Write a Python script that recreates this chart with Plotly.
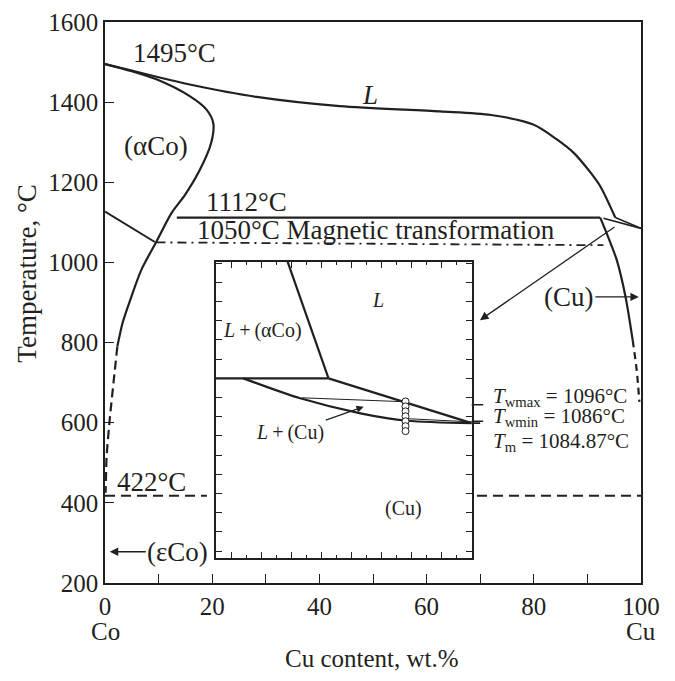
import plotly.graph_objects as go

INK = "#231f20"
FONT = "Liberation Serif"

# ---------------- main diagram (x: Cu wt.%, y: temperature °C) ----------------
liq_x = [0, 5, 10, 15.8, 28.3, 43.8, 62.5, 72, 79.9, 84.3, 87.4, 90.6, 92.4, 95.2]
liq_T = [1495, 1479, 1462, 1444, 1413, 1390, 1377, 1368, 1344, 1307, 1274, 1224, 1190, 1112]

aco_x = [0, 5, 9.6, 15.8, 18.9, 20.2, 19.8, 17.7, 15.0, 12.4, 9.6, 6.8, 4.7, 3.3, 2.3]
aco_T = [1495, 1477, 1457, 1415, 1382, 1348, 1298, 1231, 1170, 1123, 1052, 982, 906, 850, 790]
aco_dash_x = [2.3, 1.25, 0.93, 0.3, 0.15, 0.1]
aco_dash_T = [790, 657, 615, 515, 440, 425]

eps_x = [0, 9.3]
eps_T = [1127, 1051]

perit_x = [13.4, 92.4]
perit_T = [1112, 1112]

mag_x = [9.6, 93]
mag_T = [1050, 1043]

lens_up_x = [95.2, 100]
lens_up_T = [1112, 1085]
lens_lo_x = [93.0, 100]
lens_lo_T = [1110, 1085]

cu_x = [92.4, 94.3, 95.5, 97.1, 98.45]
cu_T = [1112, 1049, 1005, 915, 806]
cu_dash_x = [98.45, 99.2, 99.7]
cu_dash_T = [806, 731, 652]

eut_x = [0, 19.0, None, 69.4, 100]
eut_T = [418, 418, None, 418, 418]

x_ticks = [0, 10, 20, 30, 40, 50, 60, 70, 80, 90, 100]
x_ticktext = ["0", "", "20", "", "40", "", "60", "", "80", "", "100"]
y_ticks = [200, 400, 600, 800, 1000, 1200, 1400, 1600]

# ---------------- inset (enlarged Cu corner) ----------------
in_liq_aco_x = [93.88, 95.24]
in_liq_aco_T = [1182.7, 1112]
in_perit_x = [91.5, 95.24]
in_perit_T = [1112, 1112]
in_liq_cu_x = [95.24, 100]
in_liq_cu_T = [1112, 1084.87]
in_sol_cu_x = [92.41, 94.3, 96.3, 97.86, 100]
in_sol_cu_T = [1112, 1099.9, 1090.8, 1086.3, 1084.87]
tie1_x = [94.36, 97.8]
tie1_T = [1100.2, 1097.8]
tie2_x = [97.8, 100]
tie2_T = [1087.6, 1085.6]
pts_x = [97.8] * 7
pts_T = [1098, 1095, 1092, 1089, 1086, 1083, 1080]

T_wmax, T_wmin, T_m = 1096, 1086, 1084.87

fig = go.Figure()


def add_line(x, y, width=2.2, dash="solid", sub=False, smooth=False):
    fig.add_trace(go.Scatter(
        x=x, y=y, mode="lines",
        line=dict(color=INK, width=width, dash=dash,
                  shape="spline" if smooth else "linear", smoothing=0.8),
        xaxis="x2" if sub else "x", yaxis="y2" if sub else "y",
        hoverinfo="skip", showlegend=False, connectgaps=False))


add_line(liq_x, liq_T, smooth=True)
add_line(aco_x, aco_T, smooth=True)
add_line(aco_dash_x, aco_dash_T, dash="9px,5px", smooth=True)
add_line(eps_x, eps_T, width=2)
add_line(perit_x, perit_T)
add_line(mag_x, mag_T, width=1.8, dash="9px,5px,2px,5px")
add_line(lens_up_x, lens_up_T, width=1.6)
add_line(lens_lo_x, lens_lo_T, width=1.6)
add_line(cu_x, cu_T, smooth=True)
add_line(cu_dash_x, cu_dash_T, dash="7px,5px", smooth=True)
add_line(eut_x, eut_T, width=2, dash="10px,6px")

# inset lines
add_line(in_liq_aco_x, in_liq_aco_T, sub=True)
add_line(in_perit_x, in_perit_T, sub=True)
add_line(in_liq_cu_x, in_liq_cu_T, sub=True)
add_line(in_sol_cu_x, in_sol_cu_T, sub=True, smooth=True)
add_line(tie1_x, tie1_T, width=1, sub=True)
add_line(tie2_x, tie2_T, width=1, sub=True)
fig.add_trace(go.Scatter(
    x=pts_x, y=pts_T, mode="markers", xaxis="x2", yaxis="y2",
    marker=dict(symbol="circle", size=7, color="white", line=dict(color=INK, width=1)),
    hoverinfo="skip", showlegend=False))

annos = []


def txt(x, y, s, size=27, xref="x", yref="y", xanchor="center", yanchor="middle", angle=0):
    annos.append(dict(x=x, y=y, text=s, xref=xref, yref=yref, showarrow=False,
                      xanchor=xanchor, yanchor=yanchor, textangle=angle,
                      font=dict(family=FONT, size=size, color=INK)))


txt(13.0, 1523, "1495°C")
txt(49.4, 1418, "<i>L</i>")
txt(9.6, 1290, "(αCo)")
txt(26.4, 1150, "1112°C")
txt(16.8, 1080, "1050°C Magnetic transformation", xanchor="left")
txt(8.7, 453, "422°C")

# (Cu) arrow
annos.append(dict(x=99.6, y=914, xref="x", yref="y", ax=-70, ay=0, axref="pixel", ayref="pixel",
                  text="(Cu)", showarrow=True, arrowhead=2, arrowsize=1.3, arrowwidth=1.3,
                  arrowcolor=INK, font=dict(family=FONT, size=27, color=INK)))
# (εCo) arrow
annos.append(dict(x=0.9, y=278, xref="x", yref="y", ax=68, ay=0, axref="pixel", ayref="pixel",
                  text="(εCo)", showarrow=True, arrowhead=2, arrowsize=1.3, arrowwidth=1.3,
                  arrowcolor=INK, font=dict(family=FONT, size=27, color=INK)))
# lens -> inset arrow
annos.append(dict(x=69.96, y=856, xref="x", yref="y", ax=95.34, ay=1091, axref="x", ayref="y",
                  text="", showarrow=True, arrowhead=2, arrowsize=1.3, arrowwidth=1.3,
                  arrowcolor=INK))

# inset labels
txt(93.06, 1141.3, "<i>L</i>\u2009+\u2009(αCo)", size=20, xref="x2", yref="y2")
txt(96.9, 1159.5, "<i>L</i>", size=20, xref="x2", yref="y2")
txt(97.73, 1033.4, "(Cu)", size=20, xref="x2", yref="y2")
annos.append(dict(x=96.41, y=1094.8, xref="x2", yref="y2", ax=93.97, ay=1079, axref="x2", ayref="y2",
                  text="<i>L</i>\u2009+\u2009(Cu)", showarrow=True, arrowhead=2, arrowsize=1.2,
                  arrowwidth=1.2, arrowcolor=INK, font=dict(family=FONT, size=20, color=INK)))

# markers at right of inset
for T in (T_wmax, T_wmin, T_m):
    annos.append(dict(x=100, y=T, xref="x2", yref="y2", ax=13 if T != T_m else 10, ay=0,
                      axref="pixel", ayref="pixel", text="", showarrow=True, arrowhead=0,
                      arrowwidth=1.6, arrowcolor=INK))
annos.append(dict(x=100 + 10 / 30, y=T_m, xref="x2", yref="y2", ax=10, ay=14,
                  axref="pixel", ayref="pixel", text="", showarrow=True, arrowhead=0,
                  arrowwidth=1.1, arrowcolor=INK))

txt(72.1, 664, f"<i>T</i><sub>wmax</sub> = {T_wmax}°C", size=21, xanchor="left")
txt(72.1, 614, f"<i>T</i><sub>wmin</sub> = {T_wmin}°C", size=21, xanchor="left")
txt(72.1, 552, f"<i>T</i><sub>m</sub> = {T_m}°C", size=21, xanchor="left")

# element labels under axis ends
txt(0, -0.0856, "Co", size=25, yref="paper")
txt(100, -0.0856, "Cu", size=25, yref="paper")

# axis titles
txt(0.498, -0.134, "Cu content, wt.%", size=25, xref="paper", yref="paper")
txt(-0.146, 0.551, "Temperature, °C", size=27, xref="paper", yref="paper", angle=-90)

axis_common = dict(showgrid=False, zeroline=False, showline=True, linecolor=INK,
                   linewidth=1.5, mirror=True, ticks="inside", tickcolor=INK,
                   automargin=False,
                   tickfont=dict(family=FONT, size=25, color=INK))

fig.update_layout(
    width=659, height=665,
    margin=dict(l=97, r=26, t=14, b=90, autoexpand=False),
    paper_bgcolor="white", plot_bgcolor="white",
    showlegend=False,
    xaxis=dict(range=[0, 100], tickvals=x_ticks, ticktext=x_ticktext, ticklen=9,
               tickwidth=1.3, **axis_common),
    yaxis=dict(range=[200, 1600], tickvals=y_ticks, ticklen=9, tickwidth=1.3, **axis_common),
    xaxis2=dict(domain=[0.2071, 0.6841], anchor="y2", range=[91.5, 100], automargin=False,
                showgrid=False, zeroline=False, showline=True, linecolor=INK, linewidth=1.5,
                mirror="ticks", ticks="inside", tickcolor=INK, ticklen=7, tickwidth=1.2,
                tick0=92, dtick=1, showticklabels=False,
                minor=dict(ticks="inside", dtick=0.5, ticklen=4, tickcolor=INK, tickwidth=1.2)),
    yaxis2=dict(domain=[0.0440, 0.5727], anchor="x2", range=[1002.9, 1182.7], automargin=False,
                showgrid=False, zeroline=False, showline=True, linecolor=INK, linewidth=1.5,
                mirror="ticks", ticks="inside", tickcolor=INK, ticklen=6, tickwidth=1.2,
                tick0=1112, dtick=11.64, showticklabels=False),
    annotations=annos,
)

fig.write_html("out.html")
